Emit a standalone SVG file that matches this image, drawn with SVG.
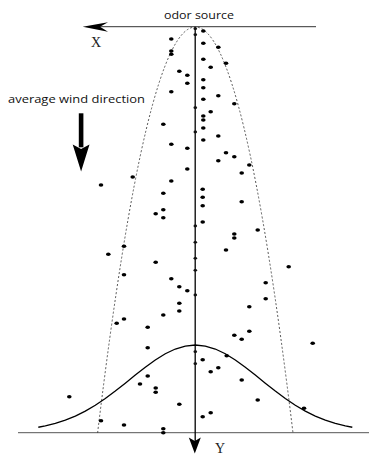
<svg xmlns="http://www.w3.org/2000/svg" width="369" height="455" viewBox="0 0 369 455">
<style>
.lbl{font-family:"Open Sans","Noto Sans","Liberation Sans",sans-serif;font-size:11px;fill:#111}
.ax{font-family:"Liberation Serif","DejaVu Serif",serif;font-size:14px;fill:#222}
.d{fill:#000}
.a{fill:#111}
</style>
<rect width="369" height="455" fill="#fff"/>
<g id="connectors">
<line x1="316" y1="26.7" x2="100" y2="26.7" stroke="#333" stroke-width="1"/>
<path d="M82.7,26.7 L108,22.3 L100,26.7 L108,31.7 Z" fill="#000"/>
<line x1="18" y1="432.7" x2="369" y2="432.7" stroke="#555" stroke-width="1"/>
<line x1="195.2" y1="26.7" x2="195.2" y2="442" stroke="#000" stroke-width="1.3"/>
<path d="M194.8,453.5 L188.8,437.5 L194.8,441 L200.8,437.5 Z" fill="#000"/>
<path d="M97.6,433 Q195.3,-379 293,433" fill="none" stroke="#444" stroke-width="0.9" stroke-dasharray="2,2"/>
<polyline fill="none" stroke="#000" stroke-width="1.3" points="38.3,427.24 45.3,425.87 55.3,423.37 65.3,420.14 75.3,416.07 85.3,411.11 95.3,405.24 105.3,398.52 115.3,391.09 125.3,383.18 135.3,375.09 145.3,367.21 155.3,359.96 165.3,353.76 175.3,349.01 185.3,346.02 195.3,345 205.3,346.02 215.3,349.01 225.3,353.76 235.3,359.96 245.3,367.21 255.3,375.09 265.3,383.18 275.3,391.09 285.3,398.52 295.3,405.24 305.3,411.11 315.3,416.07 325.3,420.14 335.3,423.37 345.3,425.87 352.3,427.24"/>
</g>
<g id="wind">
<rect x="78.8" y="113.3" width="4.6" height="34" fill="#000"/>
<path d="M81.1,171.5 L72.7,144.5 L81.1,149 L89.5,144.5 Z" fill="#000"/>
<text class="lbl" x="8" y="103" textLength="137" lengthAdjust="spacingAndGlyphs">average wind direction</text>
</g>
<g id="labels">
<text class="lbl" x="164" y="19" textLength="70" lengthAdjust="spacingAndGlyphs">odor source</text>
<text class="ax" x="91" y="47">X</text>
<text class="ax" x="215" y="452.5">Y</text>
</g>
<g id="particles">
<ellipse class="a" cx="195.3" cy="28.7" rx="1.8" ry="1.4"/>
<ellipse class="a" cx="195.3" cy="34.7" rx="1.8" ry="1.4"/>
<ellipse class="a" cx="195.3" cy="107.7" rx="1.8" ry="1.4"/>
<ellipse class="a" cx="195.3" cy="132" rx="1.8" ry="1.4"/>
<ellipse class="a" cx="195.3" cy="226" rx="1.8" ry="1.4"/>
<ellipse class="a" cx="195.3" cy="242.3" rx="1.8" ry="1.4"/>
<ellipse class="a" cx="195.3" cy="258.3" rx="1.8" ry="1.4"/>
<ellipse class="a" cx="195.3" cy="270.3" rx="1.8" ry="1.4"/>
<ellipse class="a" cx="195.3" cy="295" rx="1.8" ry="1.4"/>
<ellipse class="a" cx="195.3" cy="351.7" rx="1.8" ry="1.4"/>
<ellipse class="a" cx="195.3" cy="363.7" rx="1.8" ry="1.4"/>
<ellipse class="d" cx="171.3" cy="39" rx="2.3" ry="1.8"/>
<ellipse class="d" cx="203.3" cy="31" rx="2.3" ry="1.8"/>
<ellipse class="d" cx="203.3" cy="43.3" rx="2.3" ry="1.8"/>
<ellipse class="d" cx="218.3" cy="47.3" rx="2.3" ry="1.8"/>
<ellipse class="d" cx="171.3" cy="51" rx="2.3" ry="1.8"/>
<ellipse class="d" cx="171.3" cy="54.3" rx="2.3" ry="1.8"/>
<ellipse class="d" cx="203.3" cy="59.3" rx="2.3" ry="1.8"/>
<ellipse class="d" cx="226" cy="63.3" rx="2.3" ry="1.8"/>
<ellipse class="d" cx="210.7" cy="67.3" rx="2.3" ry="1.8"/>
<ellipse class="d" cx="179.3" cy="71.3" rx="2.3" ry="1.8"/>
<ellipse class="d" cx="187.3" cy="75.3" rx="2.3" ry="1.8"/>
<ellipse class="d" cx="187.3" cy="83.3" rx="2.3" ry="1.8"/>
<ellipse class="d" cx="203.3" cy="79.7" rx="2.3" ry="1.8"/>
<ellipse class="d" cx="203.3" cy="87.7" rx="2.3" ry="1.8"/>
<ellipse class="d" cx="171.3" cy="91.7" rx="2.3" ry="1.8"/>
<ellipse class="d" cx="218.3" cy="95.7" rx="2.3" ry="1.8"/>
<ellipse class="d" cx="203.3" cy="99.3" rx="2.3" ry="1.8"/>
<ellipse class="d" cx="234.3" cy="103.7" rx="2.3" ry="1.8"/>
<ellipse class="d" cx="210.7" cy="111.7" rx="2.3" ry="1.8"/>
<ellipse class="d" cx="203.3" cy="116" rx="2.3" ry="1.8"/>
<ellipse class="d" cx="203.3" cy="120" rx="2.3" ry="1.8"/>
<ellipse class="d" cx="163.3" cy="124.3" rx="2.3" ry="1.8"/>
<ellipse class="d" cx="203.3" cy="128" rx="2.3" ry="1.8"/>
<ellipse class="d" cx="218.3" cy="136" rx="2.3" ry="1.8"/>
<ellipse class="d" cx="203.3" cy="140" rx="2.3" ry="1.8"/>
<ellipse class="d" cx="171.3" cy="144.3" rx="2.3" ry="1.8"/>
<ellipse class="d" cx="187.3" cy="148.3" rx="2.3" ry="1.8"/>
<ellipse class="d" cx="226" cy="152.7" rx="2.3" ry="1.8"/>
<ellipse class="d" cx="234.3" cy="156.7" rx="2.3" ry="1.8"/>
<ellipse class="d" cx="218.3" cy="160.7" rx="2.3" ry="1.8"/>
<ellipse class="d" cx="249.3" cy="165" rx="2.3" ry="1.8"/>
<ellipse class="d" cx="187.3" cy="169" rx="2.3" ry="1.8"/>
<ellipse class="d" cx="241.7" cy="173" rx="2.3" ry="1.8"/>
<ellipse class="d" cx="132.7" cy="177" rx="2.3" ry="1.8"/>
<ellipse class="d" cx="101" cy="185" rx="2.3" ry="1.8"/>
<ellipse class="d" cx="171.3" cy="181" rx="2.3" ry="1.8"/>
<ellipse class="d" cx="163.3" cy="193.3" rx="2.3" ry="1.8"/>
<ellipse class="d" cx="202.7" cy="189.3" rx="2.3" ry="1.8"/>
<ellipse class="d" cx="202.7" cy="197.3" rx="2.3" ry="1.8"/>
<ellipse class="d" cx="202.7" cy="205.7" rx="2.3" ry="1.8"/>
<ellipse class="d" cx="241.7" cy="201.7" rx="2.3" ry="1.8"/>
<ellipse class="d" cx="163.3" cy="209.7" rx="2.3" ry="1.8"/>
<ellipse class="d" cx="155.7" cy="213.7" rx="2.3" ry="1.8"/>
<ellipse class="d" cx="163.3" cy="217.7" rx="2.3" ry="1.8"/>
<ellipse class="d" cx="202.7" cy="222" rx="2.3" ry="1.8"/>
<ellipse class="d" cx="257.7" cy="230" rx="2.3" ry="1.8"/>
<ellipse class="d" cx="234.3" cy="234" rx="2.3" ry="1.8"/>
<ellipse class="d" cx="234.3" cy="238" rx="2.3" ry="1.8"/>
<ellipse class="d" cx="124" cy="246.3" rx="2.3" ry="1.8"/>
<ellipse class="d" cx="226" cy="250" rx="2.3" ry="1.8"/>
<ellipse class="d" cx="108.3" cy="254.3" rx="2.3" ry="1.8"/>
<ellipse class="d" cx="155.7" cy="262.3" rx="2.3" ry="1.8"/>
<ellipse class="d" cx="288.7" cy="266.7" rx="2.3" ry="1.8"/>
<ellipse class="d" cx="124" cy="274.7" rx="2.3" ry="1.8"/>
<ellipse class="d" cx="171.3" cy="278.7" rx="2.3" ry="1.8"/>
<ellipse class="d" cx="265.7" cy="282.7" rx="2.3" ry="1.8"/>
<ellipse class="d" cx="179.3" cy="286.7" rx="2.3" ry="1.8"/>
<ellipse class="d" cx="187.3" cy="290.7" rx="2.3" ry="1.8"/>
<ellipse class="d" cx="265.7" cy="298.7" rx="2.3" ry="1.8"/>
<ellipse class="d" cx="179.3" cy="303.3" rx="2.3" ry="1.8"/>
<ellipse class="d" cx="249.3" cy="306.7" rx="2.3" ry="1.8"/>
<ellipse class="d" cx="179.3" cy="311" rx="2.3" ry="1.8"/>
<ellipse class="d" cx="163.3" cy="315" rx="2.3" ry="1.8"/>
<ellipse class="d" cx="124" cy="319" rx="2.3" ry="1.8"/>
<ellipse class="d" cx="116.7" cy="323.3" rx="2.3" ry="1.8"/>
<ellipse class="d" cx="147.7" cy="327.3" rx="2.3" ry="1.8"/>
<ellipse class="d" cx="249.3" cy="331.3" rx="2.3" ry="1.8"/>
<ellipse class="d" cx="234.3" cy="335.3" rx="2.3" ry="1.8"/>
<ellipse class="d" cx="241.7" cy="339.3" rx="2.3" ry="1.8"/>
<ellipse class="d" cx="312.7" cy="343.3" rx="2.3" ry="1.8"/>
<ellipse class="d" cx="147.7" cy="347.7" rx="2.3" ry="1.8"/>
<ellipse class="d" cx="202.7" cy="359.7" rx="2.3" ry="1.8"/>
<ellipse class="d" cx="226.7" cy="355.7" rx="2.3" ry="1.8"/>
<ellipse class="d" cx="218.3" cy="367.7" rx="2.3" ry="1.8"/>
<ellipse class="d" cx="210.7" cy="371.7" rx="2.3" ry="1.8"/>
<ellipse class="d" cx="147.7" cy="376" rx="2.3" ry="1.8"/>
<ellipse class="d" cx="241.7" cy="380" rx="2.3" ry="1.8"/>
<ellipse class="d" cx="140" cy="384" rx="2.3" ry="1.8"/>
<ellipse class="d" cx="155.7" cy="388" rx="2.3" ry="1.8"/>
<ellipse class="d" cx="155.7" cy="392.3" rx="2.3" ry="1.8"/>
<ellipse class="d" cx="69.3" cy="396.7" rx="2.3" ry="1.8"/>
<ellipse class="d" cx="257.7" cy="400" rx="2.3" ry="1.8"/>
<ellipse class="d" cx="179.3" cy="404.3" rx="2.3" ry="1.8"/>
<ellipse class="d" cx="304" cy="408.3" rx="2.3" ry="1.8"/>
<ellipse class="d" cx="210.7" cy="412.7" rx="2.3" ry="1.8"/>
<ellipse class="d" cx="202.7" cy="416.7" rx="2.3" ry="1.8"/>
<ellipse class="d" cx="101" cy="420.7" rx="2.3" ry="1.8"/>
<ellipse class="d" cx="124" cy="425" rx="2.3" ry="1.8"/>
<ellipse class="d" cx="163.3" cy="428.7" rx="2.3" ry="1.8"/>
<ellipse class="d" cx="163.3" cy="432.7" rx="2.3" ry="1.8"/>
</g>
</svg>
